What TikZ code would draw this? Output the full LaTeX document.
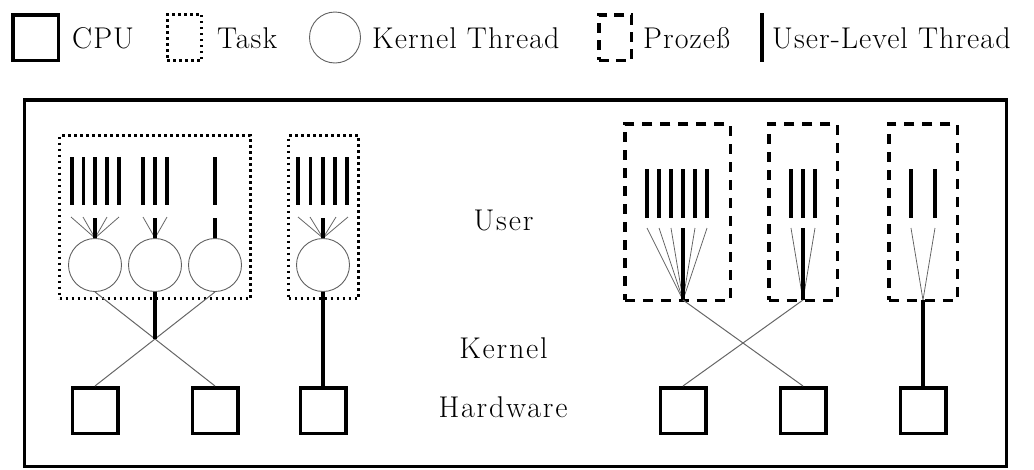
\documentclass[tikz,border=0pt]{standalone}
\usepackage{fontspec}
\usetikzlibrary{calc}
\newfontfamily\legendfont[LetterSpace=3.5]{Latin Modern Roman}
\newfontfamily\layerfont[LetterSpace=6]{Latin Modern Roman}
\begin{document}
\begin{tikzpicture}[x=1pt,y=-1pt,
  every node/.style={font=\fontsize{30}{36}\legendfont},
  cpu/.style={draw, line width=3.5pt, minimum size=45.5pt, inner sep=0pt},
  kthread/.style={circle, draw=black!62, line width=0.9pt, minimum size=53pt, inner sep=0pt},
  taskbox/.style={draw, line width=2.6pt, dash pattern=on 2.6pt off 3.4pt, inner sep=0pt},
  procbox/.style={draw, line width=3.5pt, dash pattern=on 10pt off 8pt, inner sep=0pt},
  ult/.style={line width=3.5pt},
  fanline/.style={draw=black!60, line width=0.8pt},
  link/.style={draw=black!60, line width=1pt},
  bind/.style={line width=3.5pt},
  lbl/.style={anchor=base west, inner sep=0pt},
  layer/.style={anchor=base, inner sep=0pt, font=\fontsize{30}{36}\layerfont}]
\useasboundingbox (0,0) rectangle (1034,469);

% ---------- legend ----------
\node[cpu] (lcpu) at (35.5,37.5) {};
\node[lbl] (lcput) at (72,48) {CPU};
\node[taskbox, minimum width=34.4pt, minimum height=46.4pt] (ltask) at (184.5,37.5) {};
\node[lbl] (ltaskt) at (217,48) {Task};
\node[kthread, minimum size=51pt] (lkt) at (335,37.5) {};
\node[lbl] (lktt) at (372,48) {Kernel Thread};
\node[procbox, minimum width=32.5pt, minimum height=45.5pt, dash pattern=on 10pt off 7pt] (lproc) at (615,37.5) {};
\node[lbl] (lproct) at (643,48) {Prozeß};
\coordinate (lult1) at (762,13);
\coordinate (lult2) at (762,62);
\draw[ult] (lult1) -- (lult2);
\node[lbl] (lultt) at (772,48) {User-Level Thread};

% ---------- frame ----------
\draw[line width=3.5pt] (24.5,99.75) rectangle (1006.25,466.25);

% ---------- layer labels ----------
\node[layer] (user) at (503.5,230) {User};
\node[layer] (kernel) at (503.5,358) {Kernel};
\node[layer] (hw) at (503,417) {Hardware};

% ---------- tasks (left) ----------
\node[taskbox, minimum width=191pt, minimum height=163pt] (task1) at (155,217) {};
\node[taskbox, minimum width=70pt, minimum height=163pt] (task2) at (323.5,217) {};

\node[kthread] (k1) at (95,265) {};
\node[kthread] (k2) at (155,265) {};
\node[kthread] (k3) at (215,265) {};
\node[kthread] (k4) at (323,265) {};

% user-level threads
\foreach \x in {72,83.5,95,107,119,143,155,167,215,298,310.5,323,335,347}
  \draw[ult] (\x,157) -- (\x,205);

% threads multiplexed onto kernel threads
\foreach \x in {71,83,107,119} {
  \coordinate (f) at (\x,217);
  \draw[fanline] (f) -- (k1.north);
}
\foreach \x in {143,167} {
  \coordinate (f) at (\x,217);
  \draw[fanline] (f) -- (k2.north);
}
\foreach \x in {298,310,336,348} {
  \coordinate (f) at (\x,217);
  \draw[fanline] (f) -- (k4.north);
}
\foreach \k/\x in {k1/95,k2/155,k3/215,k4/323} {
  \coordinate (s) at (\x,218);
  \draw[bind] (s) -- (\k.north);
}

% CPUs (left)
\node[cpu] (c1) at (95,410.5) {};
\node[cpu] (c2) at (215,410.5) {};
\node[cpu] (c3) at (323,410.5) {};

\draw[link] (k1.south) -- (c2.north);
\draw[link] (k3.south) -- (c1.north);
\coordinate (x1) at ($(k1.south)!0.5!(c2.north)$);
\draw[bind] (k2.south) -- (x1);
\draw[bind] (k4.south) -- (c3.north);

% ---------- processes (right) ----------
\node[procbox, minimum width=105.5pt, minimum height=176.5pt] (p1) at (677.5,212) {};
\node[procbox, minimum width=68.5pt, minimum height=176.5pt] (p2) at (803,212) {};
\node[procbox, minimum width=68.5pt, minimum height=176.5pt] (p3) at (923,212) {};

\foreach \x in {647,659,671,683,695,707,791,803,815,911,935}
  \draw[ult] (\x,169) -- (\x,218);

\coordinate (j1) at (683,300);
\coordinate (j2) at (803,300);
\coordinate (j3) at (923,300);

\foreach \x in {647,659,671,695,707}
  \draw[fanline] (\x,228) -- (j1);
\foreach \x in {791,815}
  \draw[fanline] (\x,228) -- (j2);
\foreach \x in {911,935}
  \draw[fanline] (\x,228) -- (j3);
\coordinate (s1) at (683,228);
\coordinate (s2) at (803,228);
\draw[bind] (s1) -- (j1);
\draw[bind] (s2) -- (j2);

% CPUs (right)
\node[cpu] (c4) at (683,410.5) {};
\node[cpu] (c5) at (803,410.5) {};
\node[cpu] (c6) at (923,410.5) {};

\draw[link] (j1) -- (c5.north);
\draw[link] (j2) -- (c4.north);
\draw[bind] (j3) -- (c6.north);
\end{tikzpicture}
\end{document}
